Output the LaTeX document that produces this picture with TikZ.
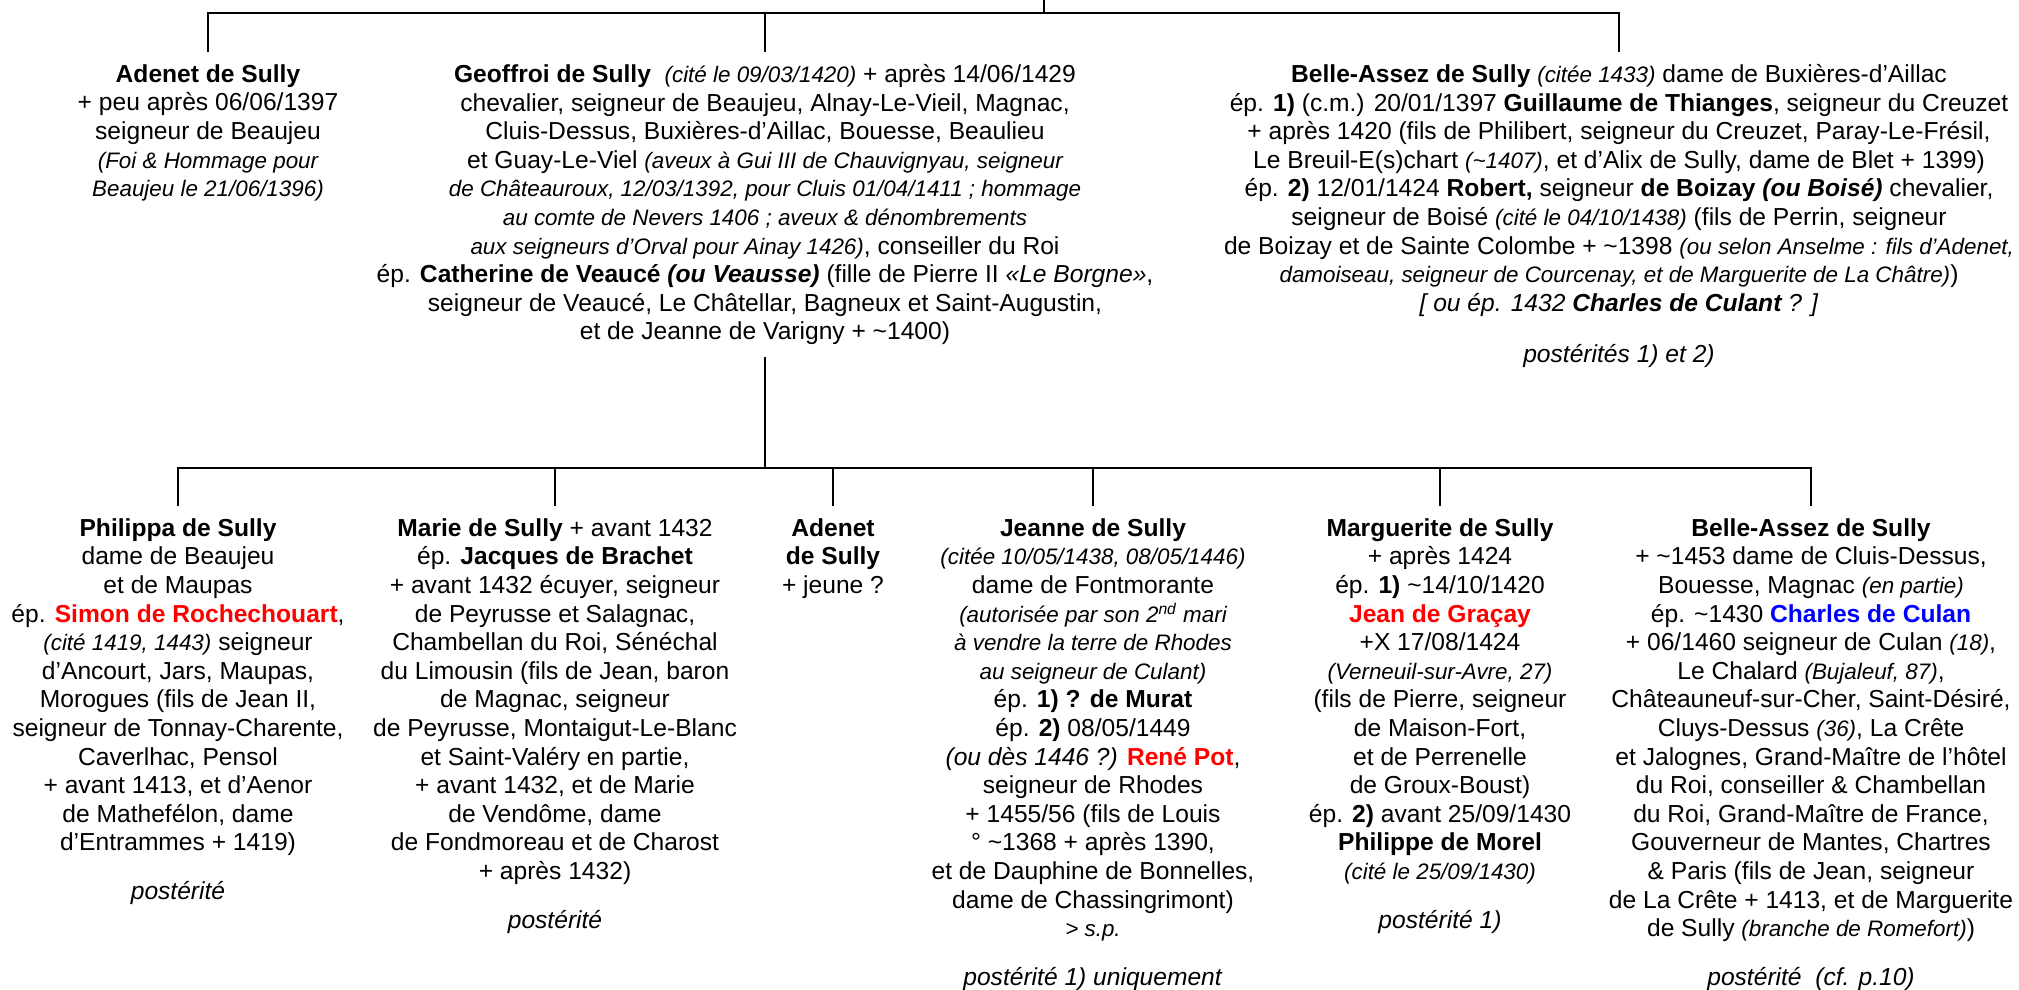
\documentclass[tikz,border=0pt]{standalone}
\usepackage{fontspec}
\setmainfont{Liberation Sans}
\newcommand{\pet}[1]{{\fontsize{11.2pt}{14.3pt}\selectfont\itshape #1}}
\newcommand{\tld}{\textasciitilde}

\begin{document}
\begin{tikzpicture}[x=0.5pt,y=-0.5pt]
            \tikzstyle{every node}+=[inner xsep=0pt, inner ysep=6pt, align=center, anchor=north, font={\fontsize{12.3pt}{14.3pt}\selectfont}]
            \tikzstyle{lien}=[black, line width=0.9pt]
            \useasboundingbox (0,0) rectangle (2019,990);
            % generation 1
            \node (adenetA) at (208,52) {\textbf{Adenet de Sully}\\+ peu après 06/06/1397\\seigneur de Beaujeu\\\pet{(Foi \& Hommage pour}\\\pet{Beaujeu le 21/06/1396)}};
            \node (geoffroi) at (765,52) {\textbf{Geoffroi de Sully}\ \ \pet{(cité le 09/03/1420)} + après 14/06/1429\\
                chevalier, seigneur de Beaujeu, Alnay-Le-Vieil, Magnac,\\
                Cluis-Dessus, Buxières-d’Aillac, Bouesse, Beaulieu\\
                et Guay-Le-Viel \pet{(aveux à Gui III de Chauvignyau, seigneur}\\
                \pet{de Châteauroux, 12/03/1392, pour Cluis 01/04/1411 ; hommage}\\
                \pet{au comte de Nevers 1406 ; aveux \& dénombrements}\\
                \pet{aux seigneurs d’Orval pour Ainay 1426)}, conseiller du Roi\\
                ép. \textbf{Catherine de Veaucé \textit{(ou Veausse)}} (fille de Pierre II \textit{«Le Borgne»},\\
                seigneur de Veaucé, Le Châtellar, Bagneux et Saint-Augustin,\\
                et de Jeanne de Varigny + \tld1400)};
            \node (belleA) at (1619,52) {\textbf{Belle-Assez de Sully} \pet{(citée 1433)} dame de Buxières-d’Aillac\\
                ép. \textbf{1)} (c.m.) 20/01/1397 \textbf{Guillaume de Thianges}, seigneur du Creuzet\\
                + après 1420 (fils de Philibert, seigneur du Creuzet, Paray-Le-Frésil,\\
                Le Breuil-E(s)chart \pet{(\tld1407)}, et d’Alix de Sully, dame de Blet + 1399)\\
                ép. \textbf{2)} 12/01/1424 \textbf{Robert,} seigneur \textbf{de Boizay \textit{(ou Boisé)}} chevalier,\\
                seigneur de Boisé \pet{(cité le 04/10/1438)} (fils de Perrin, seigneur\\
                de Boizay et de Sainte Colombe + \tld1398 \pet{(ou selon Anselme : fils d’Adenet,}\\
                \pet{damoiseau, seigneur de Courcenay, et de Marguerite de La Châtre)})\\
                \textit{[ ou ép. 1432 \textbf{Charles de Culant} ? ]}\\[11.5pt]
                \textit{postérités 1) et 2)}};
            \coordinate (racine) at (1044,0);
            \coordinate (barre) at (1044,12.7);
            \draw [lien] (racine) -- (barre);
            \draw [lien] (adenetA.north) |- (barre) -| (belleA.north);
            \draw [lien] (geoffroi.north) -- (geoffroi.north |- barre);
            % generation 2
            \node (philippa) at (178,506) {\textbf{Philippa de Sully}\\dame de Beaujeu\\et de Maupas\\
                ép. \textcolor{red}{\textbf{Simon de Rochechouart}},\\\pet{(cité 1419, 1443)} seigneur\\
                d’Ancourt, Jars, Maupas,\\Morogues (fils de Jean II,\\seigneur de Tonnay-Charente,\\
                Caverlhac, Pensol\\+ avant 1413, et d’Aenor\\de Mathefélon, dame\\d’Entrammes + 1419)\\[10pt]
                \textit{postérité}};
            \node (marie) at (555,506) {\textbf{Marie de Sully} + avant 1432\\ép. \textbf{Jacques de Brachet}\\
                + avant 1432 écuyer, seigneur\\de Peyrusse et Salagnac,\\Chambellan du Roi, Sénéchal\\
                du Limousin (fils de Jean, baron\\de Magnac, seigneur\\de Peyrusse, Montaigut-Le-Blanc\\
                et Saint-Valéry en partie,\\+ avant 1432, et de Marie\\de Vendôme, dame\\
                de Fondmoreau et de Charost\\+ après 1432)\\[10pt]
                \textit{postérité}};
            \node (adenetB) at (833,506) {\textbf{Adenet}\\\textbf{de Sully}\\+ jeune ?};
            \node (jeanne) at (1093,506) {\textbf{Jeanne de Sully}\\\pet{(citée 10/05/1438, 08/05/1446)}\\
                dame de Fontmorante\\\pet{(autorisée par son 2\textsuperscript{nd} mari}\\\pet{à vendre la terre de Rhodes}\\
                \pet{au seigneur de Culant)}\\ép. \textbf{1) ? de Murat}\\ép. \textbf{2)} 08/05/1449\\
                \textit{(ou dès 1446 ?)} \textcolor{red}{\textbf{René Pot}},\\seigneur de Rhodes\\+ 1455/56 (fils de Louis\\
                ° \tld1368 + après 1390,\\et de Dauphine de Bonnelles,\\dame de Chassingrimont)\\\pet{> s.p.}\\[10pt]
                \textit{postérité 1) uniquement}};
            \node (marguerite) at (1440,506) {\textbf{Marguerite de Sully}\\+ après 1424\\ép. \textbf{1)} \tld14/10/1420\\
                \textcolor{red}{\textbf{Jean de Graçay}}\\+X 17/08/1424\\\pet{(Verneuil-sur-Avre, 27)}\\
                (fils de Pierre, seigneur\\de Maison-Fort,\\et de Perrenelle\\de Groux-Boust)\\
                ép. \textbf{2)} avant 25/09/1430\\\textbf{Philippe de Morel}\\\pet{(cité le 25/09/1430)}\\[10pt]
                \textit{postérité 1)}};
            \node (belleB) at (1811,506) {\textbf{Belle-Assez de Sully}\\+ \tld1453 dame de Cluis-Dessus,\\
                Bouesse, Magnac \pet{(en partie)}\\ép. \tld1430 \textcolor{blue}{\textbf{Charles de Culan}}\\
                + 06/1460 seigneur de Culan \pet{(18)},\\Le Chalard \pet{(Bujaleuf, 87)},\\
                Châteauneuf-sur-Cher, Saint-Désiré,\\Cluys-Dessus \pet{(36)}, La Crête\\
                et Jalognes, Grand-Maître de l’hôtel\\du Roi, conseiller \& Chambellan\\
                du Roi, Grand-Maître de France,\\Gouverneur de Mantes, Chartres\\
                \& Paris (fils de Jean, seigneur\\de La Crête + 1413, et de Marguerite\\
                de Sully \pet{(branche de Romefort)})\\[10pt]
                \textit{postérité\ \ (cf. p.10)}};
            \coordinate (barre2) at (765,468);
            \draw [lien] (geoffroi.south) -- (geoffroi.south |- barre2);
            \draw [lien] (philippa.north) |- (barre2) -| (belleB.north);
            \draw [lien] (marie.north) -- (marie.north |- barre2);
            \draw [lien] (adenetB.north) -- (adenetB.north |- barre2);
            \draw [lien] (jeanne.north) -- (jeanne.north |- barre2);
            \draw [lien] (marguerite.north) -- (marguerite.north |- barre2);
\end{tikzpicture}
\end{document}
